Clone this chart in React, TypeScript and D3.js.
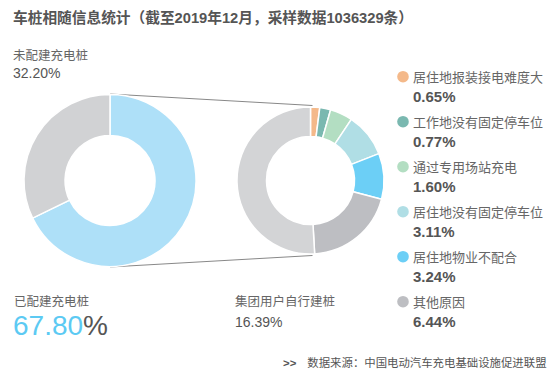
import React, { useEffect } from "react";
import * as d3 from "d3";

const title = "车桩相随信息统计（截至2019年12月，采样数据1036329条）";
const mainCategories = ["已配建充电桩", "未配建充电桩"];
const mainValues = [67.8, 32.2];
const mainColors = ["#aee0f8", "#d1d2d4"];

const detailCategories = [
  "居住地报装接电难度大",
  "工作地没有固定停车位",
  "通过专用场站充电",
  "居住地没有固定停车位",
  "居住地物业不配合",
  "其他原因",
  "集团用户自行建桩",
];
const detailValues = [0.65, 0.77, 1.6, 3.11, 3.24, 6.44, 16.39];
const detailColors = ["#f4b98a", "#7ab8b0", "#b3dec2", "#b0dee5", "#6ccff6", "#bdbec2", "#d3d4d6"];
const source = "数据来源：中国电动汽车充电基础设施促进联盟";

const W = 560;
const H = 379;
const FONT = "'Liberation Sans', Arial, 'Noto Sans CJK SC', sans-serif";

export default function App() {
  useEffect(() => {
    document.body.style.margin = "0";
  }, []);

  const L = { cx: 110, cy: 180.5, r: 86, ir: 45 };
  const R = { cx: 310.5, cy: 180.5, r: 73.5, ir: 44 };

  const pie = d3.pie<number>().sort(null).value((d) => d);
  const leftArcs = pie(mainValues);
  const rightArcs = pie(detailValues);
  const arcL = d3.arc<d3.PieArcDatum<number>>().innerRadius(L.ir).outerRadius(L.r);
  const arcR = d3.arc<d3.PieArcDatum<number>>().innerRadius(R.ir).outerRadius(R.r);

  const fmt = (v: number) => d3.format(".2f")(v) + "%";

  const legendY = d3.scaleLinear().domain([0, 1]).range([81.7, 126.7]);

  return (
    <svg width={W} height={H} style={{ display: "block", fontFamily: FONT }}>
      <rect width={W} height={H} fill="#fff" />
      <text x={13} y={23} fontSize={14.7} fontWeight="bold" fill="#555">
        {title}
      </text>

      {/* connecting lines */}
      <line x1={L.cx} y1={L.cy - L.r - 0.5} x2={R.cx + 2} y2={R.cy - R.r - 1.5} stroke="#888" strokeWidth={1} />
      <line x1={L.cx} y1={L.cy + L.r + 0.5} x2={R.cx + 2} y2={R.cy + R.r + 1.5} stroke="#888" strokeWidth={1} />

      <g transform={`translate(${L.cx},${L.cy})`}>
        {leftArcs.map((a, i) => (
          <path key={i} d={arcL(a) || ""} fill={mainColors[i]} stroke="#fff" strokeWidth={1.5} />
        ))}
      </g>
      <g transform={`translate(${R.cx},${R.cy})`}>
        {rightArcs.map((a, i) => (
          <path key={i} d={arcR(a) || ""} fill={detailColors[i]} stroke="#fff" strokeWidth={1.5} />
        ))}
      </g>

      {/* left labels */}
      <text x={13} y={60} fontSize={12.5} fill="#666">{mainCategories[1]}</text>
      <text x={13} y={78} fontSize={14} fill="#555">{fmt(mainValues[1])}</text>

      <text x={14} y={306} fontSize={12.5} fill="#666">{mainCategories[0]}</text>
      <text x={13} y={335} fontSize={28}>
        <tspan fill="#5ccaf3">{d3.format(".2f")(mainValues[0])}</tspan>
        <tspan fill="#555">%</tspan>
      </text>

      <text x={235} y={306} fontSize={12.5} fill="#666">{detailCategories[6]}</text>
      <text x={235} y={327} fontSize={14} fill="#555">{fmt(detailValues[6])}</text>

      {/* legend */}
      {detailCategories.slice(0, 6).map((c, i) => {
        const y = legendY(i);
        return (
          <g key={c}>
            <circle cx={403} cy={y - 5} r={5.8} fill={detailColors[i]} />
            <text x={413} y={y} fontSize={13} fill="#666">{c}</text>
            <text x={413} y={y + 20} fontSize={15} fontWeight="bold" fill="#555">{fmt(detailValues[i])}</text>
          </g>
        );
      })}

      <text x={283} y={367} fontSize={11.4} fill="#555">
        <tspan fontWeight="bold">&gt;&gt;</tspan>
        <tspan dx={11}>{source}</tspan>
      </text>
    </svg>
  );
}
